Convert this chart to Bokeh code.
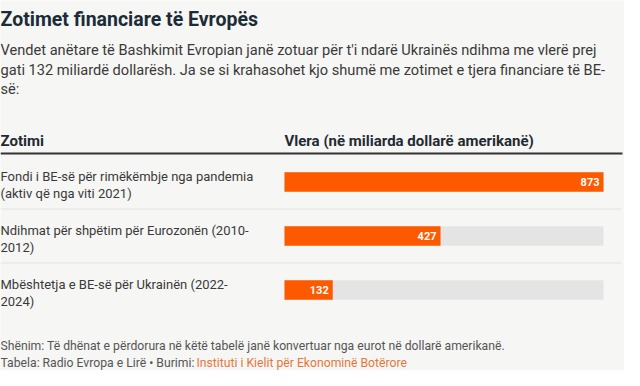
from bokeh.plotting import figure
from bokeh.models import Range1d
from bokeh.core.properties import value
from bokeh.embed import file_html
from bokeh.resources import INLINE

# ---- data ----
title_text = "Zotimet financiare të Evropës"
subtitle_lines = [
    "Vendet anëtare të Bashkimit Evropian janë zotuar për t'i ndarë Ukrainës ndihma me vlerë prej",
    "gati 132 miliardë dollarësh. Ja se si krahasohet kjo shumë me zotimet e tjera financiare të BE-",
    "së:",
]
col_headers = ["Zotimi", "Vlera (në miliarda dollarë amerikanë)"]
category_lines = [
    ["Fondi i BE-së për rimëkëmbje nga pandemia", "(aktiv që nga viti 2021)"],
    ["Ndihmat për shpëtim për Eurozonën (2010-", "2012)"],
    ["Mbështetja e BE-së për Ukrainën (2022-", "2024)"],
]
values = [873, 427, 132]
value_labels = ["873", "427", "132"]
note_text = "Shënim: Të dhënat e përdorura në këtë tabelë janë konvertuar nga eurot në dollarë amerikanë."
source_prefix = "Tabela: Radio Evropa e Lirë • Burimi: "
source_link = "Instituti i Kielit për Ekonominë Botërore"

# ---- layout ----
W, H = 624, 370
BG = "#f6f6f4"
FONT = "Roboto"
bar_x0, bar_x1 = 284, 603          # pixel span of the value column
row_top, row_h = 154, 54
vmax = max(values)
k = vmax / (bar_x1 - bar_x0)

p = figure(width=W, height=H, output_backend="svg", toolbar_location=None,
           x_range=Range1d(0, W), y_range=Range1d(H, 0),
           x_axis_type=None, y_axis_type=None, min_border=0,
           background_fill_color=BG, border_fill_color=BG,
           outline_line_color=None)
p.grid.visible = False
p.extra_x_ranges["val"] = Range1d(-bar_x0 * k, (W - bar_x0) * k)

# title / subtitle
p.text(x=[0], y=[19], text=[title_text], text_font=value(FONT),
       text_font_style="bold", text_font_size="19.5px", text_color="#1c2b38",
       text_baseline="alphabetic")
p.text(x=[0] * 3, y=[49.5 + 19.5 * i for i in range(3)], text=subtitle_lines,
       text_font=value(FONT), text_font_size="14.6px", text_color="#3a3a3a",
       text_baseline="alphabetic")

# column headers
p.text(x=[0, bar_x0], y=[140, 140], text=col_headers, text_font=value(FONT),
       text_font_style="bold", text_font_size="15px", text_color="#1f2a33",
       text_baseline="alphabetic")
p.segment(x0=[0], y0=[153], x1=[622], y1=[153], line_color="#333333", line_width=2)

# rows
n = len(values)
centers = [row_top + row_h * i + 27.5 for i in range(n)]
for i in range(1, n):
    yy = row_top + row_h * i + 0.5
    p.segment(x0=[0], y0=[yy], x1=[621], y1=[yy], line_color="#e2e2e2", line_width=1)

for i, lines in enumerate(category_lines):
    base = centers[i] - 5.5
    p.text(x=[0, 0], y=[base, base + 17], text=lines, text_font=value(FONT),
           text_font_size="13px", text_color="#3a3a3a", text_baseline="alphabetic")

p.hbar(y=centers, left=0, right=[vmax] * n, height=19.5, fill_color="#e4e4e4",
       line_color=None, x_range_name="val")
p.hbar(y=centers, left=0, right=values, height=19.5, fill_color="#fd5a00",
       line_color=None, x_range_name="val")
p.text(x=values, y=centers, text=value_labels, x_offset=-4, x_range_name="val",
       text_font=value(FONT), text_font_style="bold", text_font_size="11px",
       text_color="white", text_align="right", text_baseline="middle")

# footer
p.text(x=[0], y=[345], text=[note_text], text_font=value(FONT),
       text_font_size="12.2px", text_color="#555555", text_baseline="alphabetic")
p.text(x=[0], y=[362.5], text=[source_prefix], text_font=value(FONT),
       text_font_size="12.2px", text_color="#555555", text_baseline="alphabetic")
p.text(x=[196], y=[362.5], text=[source_link], text_font=value(FONT),
       text_font_size="12.2px", text_color="#e8763a", text_baseline="alphabetic")

open("out.html", "w").write(file_html(p, INLINE))
